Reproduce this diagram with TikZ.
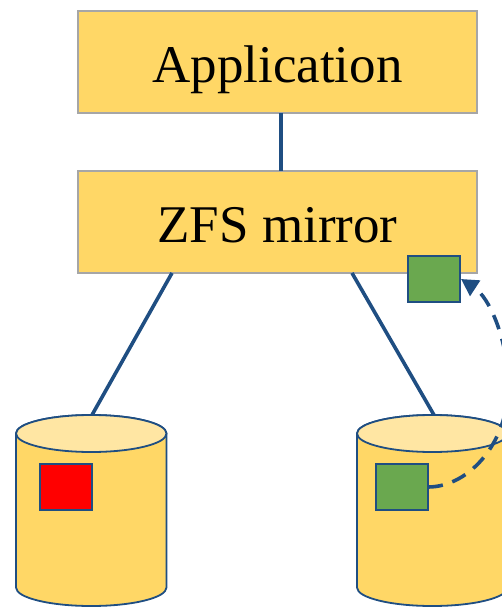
\documentclass[tikz,border=0pt]{standalone}
\usepackage{fontspec}
\setmainfont{Liberation Serif}
\usetikzlibrary{arrows.meta}
\definecolor{boxfill}{HTML}{FFD766}
\definecolor{lidfill}{HTML}{FFE6A3}
\definecolor{navy}{HTML}{1F4E82}
\definecolor{boxedge}{HTML}{A6A6A6}
\definecolor{greenfill}{HTML}{6AA84F}
\tikzset{
  x=1pt,y=-1pt,
  layerbox/.style={draw=boxedge,line width=2pt,fill=boxfill,minimum width=399pt,minimum height=102pt,inner sep=0pt,outer sep=0pt,anchor=north west,text height=41.5pt,text depth=0pt,font=\fontsize{53}{60}\selectfont},
  block/.style={draw=navy,line width=1.8pt,minimum width=52pt,minimum height=46pt,inner sep=0pt,outer sep=0pt,anchor=north west},
  link/.style={draw=navy,line width=3.6pt},
  cylbody/.style={draw=navy,line width=1.8pt,fill=boxfill},
  cyllid/.style={draw=navy,line width=1.8pt,fill=lidfill},
  anchorbox/.style={minimum width=150.5pt,minimum height=191pt,inner sep=0pt,outer sep=0pt,anchor=north west},
}
\newcommand{\drum}[1]{%
  \path[cylbody] (#1,433.5) -- (#1,587.5) arc[start angle=180,end angle=360,x radius=75.25pt,y radius=18.5pt] -- (#1+150.5,433.5) arc[start angle=0,end angle=180,x radius=75.25pt,y radius=18.5pt] -- cycle;
  \path[cyllid] (#1+75.25,433.5) ellipse[x radius=75.25pt,y radius=18.5pt];
}
\begin{document}
\begin{tikzpicture}
\useasboundingbox (0,0) rectangle (502,607);
\clip (0,0) rectangle (502,607);
\node[layerbox] (app) at (78,11) {Application};
\node[layerbox] (zfs) at (78,171) {ZFS mirror};
\drum{16}
\drum{357}
\node[anchorbox] (diskL) at (16,415) {};
\node[anchorbox] (diskR) at (357,415) {};
\coordinate (appdown) at (281,113);
\coordinate (zfsup) at (281,171);
\coordinate (zfsL) at (172,273);
\coordinate (zfsR) at (352,273);
\coordinate (diskLtop) at (92,415);
\coordinate (diskRtop) at (434,415);
\draw[link] (appdown) -- (zfsup);
\draw[link] (zfsL) -- (diskLtop);
\draw[link] (zfsR) -- (diskRtop);
\node[block,fill=red] (bad) at (40,464) {};
\node[block,fill=greenfill] (good) at (376,464) {};
\node[block,fill=greenfill] (copy) at (408,256) {};
\coordinate (tip) at (461,279);
\draw[navy,line width=3.6pt,dash pattern=on 15pt off 10pt,-{Triangle[length=17pt,width=18pt]}]
  (good.east) .. controls (470,487) and (511,440) .. (508,380) .. controls (507,340) and (490,298) .. (tip);
\end{tikzpicture}
\end{document}
